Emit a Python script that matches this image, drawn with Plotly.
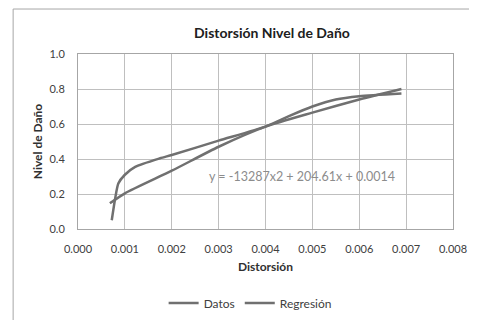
import plotly.graph_objects as go

datos_x = [0.00072, 0.00079, 0.00086, 0.0010, 0.00122, 0.00175, 0.0020, 0.0030, 0.0040, 0.0045, 0.0050, 0.0055, 0.0060, 0.0069]
datos_y = [0.05, 0.17, 0.26, 0.31, 0.355, 0.404, 0.423, 0.505, 0.585, 0.645, 0.70, 0.74, 0.759, 0.775]

reg_x = [0.00068, 0.0010, 0.0020, 0.0030, 0.0040, 0.0050, 0.0060, 0.0069]
reg_y = [0.147, 0.204, 0.333, 0.47, 0.585, 0.665, 0.74, 0.80]

x_ticks = [0.000, 0.001, 0.002, 0.003, 0.004, 0.005, 0.006, 0.007, 0.008]
y_ticks = [0.0, 0.2, 0.4, 0.6, 0.8, 1.0]

line_color = "#707070"
font = "Lato, 'Open Sans', sans-serif"

# page has an 8px body margin, so the figure is 8px smaller and coordinates are shifted
W, H = 469, 312

fig = go.Figure()
fig.add_trace(go.Scatter(x=datos_x, y=datos_y, mode="lines", name="Datos",
                         line=dict(color=line_color, width=2.5, shape="spline", smoothing=0.6)))
fig.add_trace(go.Scatter(x=reg_x, y=reg_y, mode="lines", name="Regresión",
                         line=dict(color=line_color, width=2.5, shape="spline", smoothing=0.6)))

fig.update_layout(
    width=W, height=H,
    margin=dict(l=70, r=24, t=46, b=91, autoexpand=False),
    paper_bgcolor="white", plot_bgcolor="white",
    font=dict(family=font, size=11, color="#404040"),
    title=dict(text="<b>Distorsión Nivel de Daño</b>", x=264/W, xanchor="center", xref="container",
               y=1 - 25/H, yanchor="middle", yref="container", font=dict(size=14, color="#202020")),
    showlegend=True,
    legend=dict(orientation="h", x=0.459, xanchor="center", y=-0.423, yanchor="middle",
                font=dict(size=12, color="#404040"), itemwidth=30, bgcolor="rgba(0,0,0,0)"),
    xaxis=dict(range=[0, 0.008], tickvals=x_ticks, ticktext=[f"{v:.3f}" for v in x_ticks],
               showgrid=True, gridcolor="#bfbfbf", gridwidth=1, zeroline=False, automargin=False,
               showline=True, linecolor="#a6a6a6", mirror=True, ticks="", ticklabelstandoff=10,
               title=dict(text="<b>Distorsión</b>", font=dict(size=12, color="#303030"), standoff=8)),
    yaxis=dict(range=[0, 1.0], tickvals=y_ticks, ticktext=[f"{v:.1f}" for v in y_ticks],
               showgrid=True, gridcolor="#bfbfbf", gridwidth=1, zeroline=False, automargin=False,
               showline=True, linecolor="#a6a6a6", mirror=True, ticks="", ticklabelstandoff=10,
               title=dict(text="<b>Nivel de Daño</b>", font=dict(size=12, color="#303030"), standoff=4)),
)

fig.add_annotation(text="y = -13287x2 + 204.61x + 0.0014", x=0.00276, y=0.30, xref="x", yref="y",
                   xanchor="left", yanchor="middle", showarrow=False,
                   font=dict(size=12.5, color="#8c8c8c", family=font))

# outer chart-area border
fig.add_shape(type="rect", xref="paper", yref="paper", x0=-0.173, x1=1.2, y0=-0.6, y1=1.257,
              line=dict(color="#a6a6a6", width=1), layer="below")

fig.write_html("out.html")
